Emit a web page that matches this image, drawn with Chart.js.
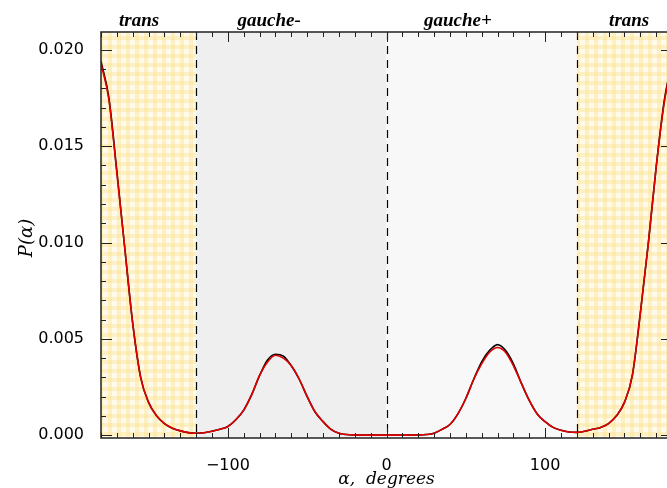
<!DOCTYPE html>
<html>
<head>
<meta charset="utf-8">
<script src="https://cdn.jsdelivr.net/npm/chart.js@4.4.1/dist/chart.umd.min.js"></script>
<style>
  html, body { margin: 0; padding: 0; background: #fff; overflow: hidden; }
  #wrap { width: 680px; height: 488px; }
</style>
</head>
<body>
<div id="wrap"><canvas id="dist" width="680" height="488"></canvas></div>
<script>
// dihedral angle (degrees), every 5 deg
const angles = [];
for (let a = -180; a <= 180; a += 5) angles.push(a);

// red curve
const probRed = [
  0.0193, 0.0174, 0.0136, 0.0097, 0.0058, 0.0030, 0.0017, 0.0010, 0.0006, 0.00036, 0.00022, 0.00013, 0.0001,
  0.00012, 0.0002, 0.0003, 0.00045, 0.0008, 0.0013, 0.0021, 0.0031, 0.0038, 0.00415, 0.0040, 0.0036,
  0.0029, 0.0020, 0.0012, 0.0007, 0.0003, 0.0001, 0.00003, 0.00001, 0, 0, 0, 0, 0, 0, 0,
  0.00001, 0.00003, 0.0001, 0.0003, 0.00055, 0.0011, 0.0019, 0.0029, 0.0037, 0.0043, 0.00455, 0.0043, 0.0036,
  0.0027, 0.0018, 0.0011, 0.0007, 0.0004, 0.00025, 0.00016, 0.00014, 0.0002, 0.0003, 0.0004, 0.0006,
  0.001, 0.0017, 0.0031, 0.0063, 0.0099, 0.0139, 0.0172, 0.0193
];
// black curve (slightly higher at the gauche peaks)
const probBlack = [
  0.0194, 0.0175, 0.0137, 0.0097, 0.0058, 0.0030, 0.0017, 0.0010, 0.0006, 0.00036, 0.00022, 0.00013, 0.0001,
  0.00012, 0.0002, 0.0003, 0.00045, 0.0008, 0.0013, 0.0021, 0.0031, 0.0039, 0.0042, 0.0041, 0.0036,
  0.0029, 0.0020, 0.0012, 0.0007, 0.0003, 0.0001, 0.00003, 0.00001, 0, 0, 0, 0, 0, 0, 0,
  0.00001, 0.00003, 0.0001, 0.0003, 0.00055, 0.0011, 0.0019, 0.0029, 0.0038, 0.0044, 0.0047, 0.0044, 0.0037,
  0.0027, 0.0018, 0.0011, 0.0007, 0.0004, 0.00025, 0.00016, 0.00014, 0.0002, 0.0003, 0.0004, 0.0006,
  0.001, 0.0017, 0.0031, 0.0063, 0.0099, 0.0139, 0.0173, 0.0194
];

const xTicks = [-100, 0, 100];
const yTicks = [0, 0.005, 0.010, 0.015, 0.020];
const regionEdges = [-180, -120, 0, 120, 180];
const regionNames = ['trans', 'gauche-', 'gauche+', 'trans'];
const labelAt = [-156, -74, 45, 153];

function plaid() {
  const c = document.createElement('canvas');
  c.width = 9; c.height = 9;
  const g = c.getContext('2d');
  g.fillStyle = '#fffaea';
  g.fillRect(0, 0, 9, 9);
  g.fillStyle = 'rgba(252,222,120,0.33)';
  g.fillRect(0, 0, 4, 9);
  g.fillRect(0, 0, 9, 4);
  return g.createPattern(c, 'repeat');
}

const decor = {
  id: 'decor',
  beforeDatasetsDraw(chart) {
    const { ctx, chartArea: a, scales: { x, y } } = chart;
    const fills = [plaid(), '#efefef', '#f8f8f8', plaid()];
    ctx.save();
    for (let i = 0; i < 4; i++) {
      const l = x.getPixelForValue(regionEdges[i]);
      const r = x.getPixelForValue(regionEdges[i + 1]);
      ctx.fillStyle = fills[i];
      ctx.fillRect(l, a.top, r - l, a.bottom - a.top);
    }
    ctx.strokeStyle = '#000';
    ctx.lineWidth = 1.2;
    ctx.setLineDash([8, 6]);
    [-120, 0, 120].forEach(v => {
      const px = Math.round(x.getPixelForValue(v)) + 0.5;
      ctx.beginPath();
      ctx.moveTo(px, a.top);
      ctx.lineTo(px, a.bottom);
      ctx.stroke();
    });
    ctx.restore();
  },
  afterDraw(chart) {
    const { ctx, chartArea: a, scales: { x, y } } = chart;
    ctx.save();
    ctx.strokeStyle = '#222';
    ctx.lineWidth = 1.5;
    ctx.strokeRect(a.left, a.top, a.right - a.left, a.bottom - a.top);
    ctx.lineWidth = 1;
    ctx.beginPath();
    for (let v = -180; v <= 180; v += 10) {
      const px = Math.round(x.getPixelForValue(v)) + 0.5;
      const len = v % 100 === 0 ? 10 : 5;
      ctx.moveTo(px, a.bottom); ctx.lineTo(px, a.bottom - len);
      ctx.moveTo(px, a.top); ctx.lineTo(px, a.top + len);
    }
    for (let k = 0; k <= 20; k++) {
      const py = Math.round(y.getPixelForValue(k * 0.001)) + 0.5;
      const len = k % 5 === 0 ? 11 : 5;
      ctx.moveTo(a.left, py); ctx.lineTo(a.left + len, py);
      ctx.moveTo(a.right, py); ctx.lineTo(a.right - len, py);
    }
    ctx.stroke();

    ctx.fillStyle = '#000';
    ctx.textAlign = 'center';
    ctx.textBaseline = 'alphabetic';
    ctx.font = 'italic bold 19px "Liberation Serif"';
    regionNames.forEach((n, i) => ctx.fillText(n, x.getPixelForValue(labelAt[i]), 26));

    ctx.font = 'italic 17px "DejaVu Serif"';
    ctx.fillText('\u03b1,  degrees', (x.getPixelForValue(0)), 484);

    ctx.translate(32, 238);
    ctx.rotate(-Math.PI / 2);
    ctx.font = 'italic 18px "DejaVu Serif"';
    ctx.fillText('P(\u03b1)', 0, 0);
    ctx.restore();
  }
};

new Chart(document.getElementById('dist'), {
  type: 'line',
  data: {
    labels: angles,
    datasets: [
      {
        label: 'red',
        data: angles.map((a, i) => ({ x: a, y: probRed[i] })),
        borderColor: '#e00000',
        borderWidth: 1.6,
        pointRadius: 0,
        cubicInterpolationMode: 'monotone'
      },
      {
        label: 'black',
        data: angles.map((a, i) => ({ x: a, y: probBlack[i] })),
        borderColor: '#000',
        borderWidth: 1.6,
        pointRadius: 0,
        cubicInterpolationMode: 'monotone'
      }
    ]
  },
  options: {
    responsive: false,
    animation: false,
    layout: { padding: { top: 32, right: 8, left: 0, bottom: 0 } },
    plugins: { legend: { display: false }, tooltip: { enabled: false } },
    scales: {
      x: {
        type: 'linear',
        min: -180,
        max: 180,
        grid: { display: false },
        border: { display: false },
        afterBuildTicks: s => { s.ticks = xTicks.map(v => ({ value: v })); },
        afterFit: s => { s.height = 50; },
        ticks: {
          padding: 10,
          color: '#000',
          font: { family: 'DejaVu Sans', size: 16 },
          callback: v => v < 0 ? '\u2212' + Math.abs(v) : String(v)
        }
      },
      y: {
        min: -0.00015,
        max: 0.02093,
        grid: { display: false },
        border: { display: false },
        afterBuildTicks: s => { s.ticks = yTicks.map(v => ({ value: v })); },
        afterFit: s => { s.width = 101; },
        ticks: {
          padding: 9,
          color: '#000',
          font: { family: 'DejaVu Sans', size: 16 },
          callback: v => v.toFixed(3)
        }
      }
    }
  },
  plugins: [decor]
});
</script>
</body>
</html>
